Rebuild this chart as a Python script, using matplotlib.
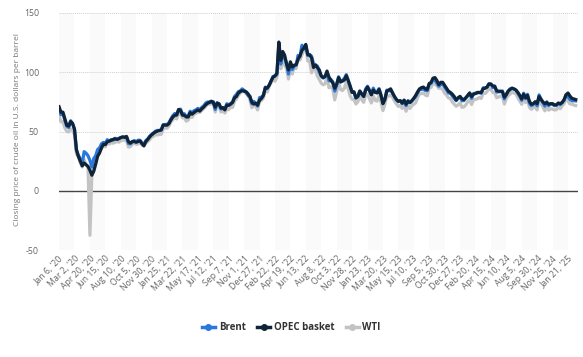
import numpy as np
import matplotlib
matplotlib.use('agg')
import matplotlib.pyplot as plt
from matplotlib.lines import Line2D

plt.rcParams['font.family'] = ['Open Sans', 'DejaVu Sans']

# weekly closing prices, Jan 6 2020 - Feb 18 2025 (8 values per tick interval)
brent = [
    68.9, 64.2, 65.2, 59.3, 54.5, 53.3, 59.1, 56.3,
    51.9, 34.4, 30.0, 27.0, 22.7, 33.0, 31.7, 29.6,
    25.6, 20.0, 27.2, 29.6, 34.8, 36.2, 39.6, 40.8,
    39.7, 43.1, 41.7, 43.1, 42.7, 44.3, 43.4, 44.2,
    45.0, 45.4, 45.1, 45.3, 39.8, 39.6, 41.4, 42.4,
    41.3, 42.7, 42.6, 40.5, 39.0, 42.4, 43.8, 46.1,
    47.6, 48.8, 50.3, 50.9, 50.9, 51.1, 55.7, 55.9,
    55.9, 57.5, 60.6, 63.3, 65.2, 63.7, 68.2, 68.9,
    64.6, 65.0, 62.2, 63.3, 67.1, 65.7, 67.6, 68.3,
    69.5, 68.5, 70.3, 71.5, 73.9, 74.9, 74.7, 74.5,
    75.2, 68.6, 74.5, 72.9, 69.0, 69.5, 69.0, 73.4,
    72.7, 73.5, 74.9, 79.5, 81.3, 83.7, 84.3, 86.0,
    84.7, 83.4, 80.3, 79.7, 73.4, 75.4, 73.7, 71.5,
    78.6, 79.0, 80.9, 87.5, 86.3, 89.3, 92.7, 96.5,
    96.8, 98.0, 123.2, 106.9, 115.6, 112.5, 107.5, 98.5,
    107.3, 102.3, 105.2, 105.9, 114.2, 113.4, 122.8, 119.5,
    122.3, 114.1, 115.1, 113.5, 107.1, 106.3, 105.2, 100.0,
    96.7, 95.1, 96.5, 99.3, 92.8, 94.0, 92.0, 84.1,
    88.9, 96.2, 91.6, 93.3, 94.8, 98.0, 93.1, 87.5,
    83.2, 82.7, 78.0, 79.8, 84.3, 82.1, 79.7, 85.9,
    88.2, 84.9, 81.0, 86.6, 83.1, 83.5, 86.2, 80.8,
    73.8, 77.1, 84.9, 84.2, 84.8, 82.7, 79.3, 77.0,
    75.2, 76.0, 73.5, 76.3, 71.8, 76.1, 74.2, 75.6,
    77.7, 79.6, 82.7, 85.6, 85.3, 86.2, 84.5, 84.4,
    90.0, 90.6, 94.4, 93.3, 90.7, 88.2, 89.7, 90.2,
    87.5, 85.2, 82.5, 82.3, 80.0, 78.0, 76.0, 78.0,
    79.7, 75.9, 76.1, 78.3, 80.1, 82.4, 78.0, 82.0,
    82.3, 82.5, 82.8, 82.2, 86.9, 86.8, 87.4, 90.4,
    90.1, 87.0, 88.4, 83.3, 83.4, 83.7, 84.2, 77.5,
    81.6, 84.3, 86.0, 86.6, 85.8, 84.9, 82.4, 79.8,
    76.3, 82.3, 77.7, 81.4, 73.8, 71.8, 72.8, 75.2,
    71.7, 80.9, 77.5, 74.3, 71.4, 75.1, 71.8, 73.3,
    72.8, 71.8, 72.1, 73.9, 72.6, 74.4, 76.3, 81.0,
    79.3, 77.1, 76.0, 75.9, 75.8,
]

opec = [
    70.9, 66.2, 66.3, 60.6, 55.2, 54.6, 58.4, 56.9,
    52.0, 34.7, 29.0, 24.9, 21.0, 23.4, 21.9, 20.5,
    17.3, 13.1, 16.5, 22.5, 29.1, 31.9, 36.2, 39.3,
    38.9, 41.3, 41.9, 42.6, 43.3, 43.8, 43.4, 43.9,
    44.8, 45.4, 45.2, 45.8, 41.4, 40.3, 41.5, 41.5,
    40.9, 41.6, 42.0, 39.7, 37.9, 41.4, 43.3, 45.4,
    47.1, 48.5, 49.6, 50.3, 50.8, 51.4, 55.4, 55.4,
    55.3, 56.6, 59.7, 62.2, 63.6, 64.1, 68.6, 67.7,
    63.8, 63.6, 62.4, 62.2, 65.9, 64.6, 66.0, 67.2,
    68.1, 67.2, 69.1, 70.6, 72.4, 73.7, 74.7, 75.6,
    74.5, 70.5, 73.7, 73.4, 69.7, 70.2, 68.2, 72.2,
    72.0, 73.1, 74.5, 78.4, 79.5, 82.4, 83.7, 84.5,
    84.0, 83.5, 81.9, 79.4, 74.7, 73.1, 74.0, 72.2,
    76.4, 77.9, 80.4, 86.9, 86.8, 89.0, 92.7, 95.8,
    96.9, 99.2, 125.5, 110.0, 117.5, 114.5, 107.0, 102.0,
    108.8, 104.5, 106.0, 106.5, 111.0, 114.0, 118.5, 120.5,
    123.5, 115.0, 114.5, 112.0, 104.0, 106.0, 104.0, 102.0,
    97.0, 95.5, 96.5, 101.0, 96.0, 93.0, 91.0, 86.5,
    90.0, 95.5, 92.0, 92.5, 93.5, 97.0, 93.0, 88.5,
    83.0, 83.5, 78.5, 79.5, 84.0, 81.5, 79.5, 84.5,
    87.5, 84.5, 81.0, 85.0, 83.0, 82.5, 85.5, 80.5,
    73.5, 77.0, 84.0, 85.0, 86.0, 82.5, 79.5, 77.0,
    75.5, 76.0, 74.0, 76.5, 73.0, 75.5, 74.5, 76.0,
    78.0, 80.5, 83.5, 86.0, 87.0, 87.5, 86.0, 85.5,
    90.5, 91.5, 95.0, 95.5, 93.0, 89.5, 91.5, 91.5,
    89.0, 86.5, 84.0, 83.0, 81.5, 79.5, 76.5, 78.5,
    79.5, 77.5, 77.0, 78.5, 80.5, 82.5, 79.5, 81.5,
    82.0, 83.0, 83.0, 83.0, 86.0, 86.5, 87.5, 90.0,
    90.0, 88.5, 88.0, 84.5, 84.0, 84.0, 83.5, 79.0,
    81.0, 84.0, 85.5, 86.5, 86.0, 85.0, 83.0, 80.5,
    77.5, 81.5, 78.5, 80.5, 75.5, 73.0, 73.5, 75.0,
    73.5, 79.5, 77.0, 75.0, 73.5, 74.5, 73.0, 73.5,
    73.5, 72.5, 72.5, 74.0, 73.5, 74.5, 77.0, 81.0,
    82.5, 80.0, 78.0, 77.5, 77.0,
]

wti = [
    63.3, 58.1, 58.3, 53.1, 50.1, 49.6, 52.1, 51.4,
    47.2, 31.1, 28.7, 23.4, 20.1, 26.1, 22.4, 20.1,
    -37.6, 12.8, 20.4, 24.1, 31.8, 34.4, 35.4, 38.2,
    37.1, 40.7, 39.3, 40.6, 40.1, 40.8, 41.6, 41.0,
    41.9, 42.9, 42.6, 42.6, 36.8, 37.3, 39.3, 40.2,
    39.2, 39.4, 41.0, 38.6, 37.7, 40.3, 41.4, 43.1,
    45.3, 45.8, 47.6, 47.0, 47.6, 47.6, 52.3, 53.0,
    52.8, 54.6, 58.0, 60.0, 61.7, 60.6, 65.1, 65.4,
    61.6, 61.6, 58.7, 59.7, 63.4, 61.9, 64.5, 65.3,
    66.3, 66.1, 67.7, 69.2, 70.9, 73.7, 73.0, 73.4,
    74.1, 66.4, 71.9, 71.3, 66.5, 67.3, 65.6, 69.2,
    68.4, 70.5, 70.3, 75.5, 77.6, 80.5, 82.4, 83.8,
    84.1, 81.9, 80.9, 76.8, 70.0, 72.1, 71.3, 68.2,
    75.6, 76.1, 78.2, 85.4, 83.3, 88.2, 91.3, 95.5,
    92.4, 95.7, 119.4, 103.0, 112.1, 106.0, 103.3, 94.3,
    102.6, 98.5, 105.2, 103.1, 114.2, 110.3, 114.7, 118.5,
    120.9, 109.5, 109.6, 99.5, 104.1, 102.6, 96.7, 93.9,
    90.8, 89.4, 90.2, 97.0, 86.9, 87.8, 85.7, 76.7,
    83.6, 91.1, 85.5, 84.6, 86.5, 91.8, 85.9, 80.0,
    77.2, 77.0, 73.2, 75.2, 79.5, 76.9, 74.6, 80.2,
    81.6, 77.9, 74.1, 80.1, 76.2, 75.7, 80.5, 74.8,
    67.6, 72.8, 80.4, 79.7, 80.8, 78.8, 75.7, 73.2,
    71.1, 72.0, 69.5, 72.2, 67.1, 71.9, 69.4, 71.8,
    73.0, 74.2, 78.7, 81.8, 81.9, 82.5, 80.7, 80.1,
    86.7, 87.3, 91.5, 89.7, 89.0, 86.4, 86.7, 85.5,
    82.3, 80.8, 78.3, 77.8, 74.9, 73.0, 71.3, 72.5,
    74.1, 70.4, 70.8, 72.4, 75.2, 76.8, 72.8, 76.9,
    77.0, 77.6, 78.7, 77.9, 82.7, 82.0, 83.7, 86.4,
    85.4, 82.9, 82.6, 78.5, 79.1, 79.8, 79.8, 73.2,
    77.7, 80.3, 81.6, 83.4, 82.3, 81.9, 78.4, 75.8,
    72.9, 80.1, 74.4, 77.4, 70.3, 68.7, 70.1, 71.0,
    68.2, 77.1, 73.8, 70.6, 67.4, 71.5, 68.0, 69.2,
    68.9, 68.1, 68.4, 70.7, 69.2, 71.7, 73.6, 78.8,
    75.8, 73.2, 73.2, 72.3, 71.9,
]

# one label every 8th week
tick_labels = ["Jan 6, '20", "Mar 2, '20", "Apr 20, '20", "Jun 15, '20", "Aug 10, '20",
               "Oct 5, '20", "Nov 30, '20", "Jan 25, '21", "Mar 22, '21", "May 17, '21",
               "Jul 12, '21", "Sep 7, '21", "Nov 1, '21", "Dec 27, '21", "Feb 22, '22",
               "Apr 19, '22", "Jun 13, '22", "Aug 8, '22", "Oct 3, '22", "Nov 28, '22",
               "Jan 23, '23", "Mar 20, '23", "May 15, '23", "Jul 10, '23", "Sep 5, '23",
               "Oct 30, '23", "Dec 27, '23", "Feb 20, '24", "Apr 15, '24", "Jun 10, '24",
               "Aug 5, '24", "Sep 30, '24", "Nov 25, '24", "Jan 21, '25"]

x = np.arange(len(brent))
ticks = np.arange(len(tick_labels)) * 8

fig = plt.figure(figsize=(5.83, 3.57), dpi=100)
ax = fig.add_axes([58.5 / 583, 1 - 250 / 357, (578 - 58.5) / 583, (250 - 13) / 357])

# alternating background bands
for i in range(0, len(ticks) - 1, 2):
    ax.axvspan(ticks[i], ticks[i + 1], color='#fafafa', lw=0, zorder=0)

for yv in [-50, 50, 100, 150]:
    ax.axhline(yv, color='#cfcfcf', lw=0.7, ls=(0, (1, 1)), zorder=1)
ax.axhline(0, color='#444444', lw=1.0, zorder=1)

ax.plot(x, wti, color='#c3c3c3', lw=2.3, solid_joinstyle='round', zorder=3)
ax.plot(x, brent, color='#2a78dd', lw=2.3, solid_joinstyle='round', zorder=4)
ax.plot(x, opec, color='#0f2438', lw=2.3, solid_joinstyle='round', zorder=5)

ax.set_xlim(-0.3, 269.2)
ax.set_ylim(-50, 150)
ax.set_yticks([-50, 0, 50, 100, 150])
ax.set_yticklabels(['-50', '0', '50', '100', '150'])
ax.set_xticks(ticks)
ax.set_xticklabels(tick_labels, rotation=45, ha='right', rotation_mode='anchor')
ax.tick_params(axis='both', length=0, colors='#666666', labelsize=6.3)
ax.tick_params(axis='y', pad=14)
ax.tick_params(axis='x', pad=3)
for s in ax.spines.values():
    s.set_visible(False)

fig.text(18 / 583, 1 - 130 / 357, 'Closing price of crude oil in U.S. dollars per barrel',
         rotation=90, ha='center', va='center', fontsize=6, color='#777777')

handles = [Line2D([], [], color='#2a78dd', lw=2.5, marker='o', ms=4),
           Line2D([], [], color='#0f2438', lw=2.5, marker='o', ms=4),
           Line2D([], [], color='#c3c3c3', lw=2.5, marker='o', ms=4)]
leg = fig.legend(handles, ['Brent', 'OPEC basket', 'WTI'], loc='center',
                 bbox_to_anchor=(0.5, 1 - 328 / 357), ncol=3, frameon=False,
                 handlelength=1.3, handletextpad=0.4, columnspacing=1.2,
                 prop={'family': ['Open Sans', 'DejaVu Sans'], 'weight': 'bold', 'size': 7})
for t in leg.get_texts():
    t.set_color('#333333')

plt.savefig('out.png', dpi=100)
